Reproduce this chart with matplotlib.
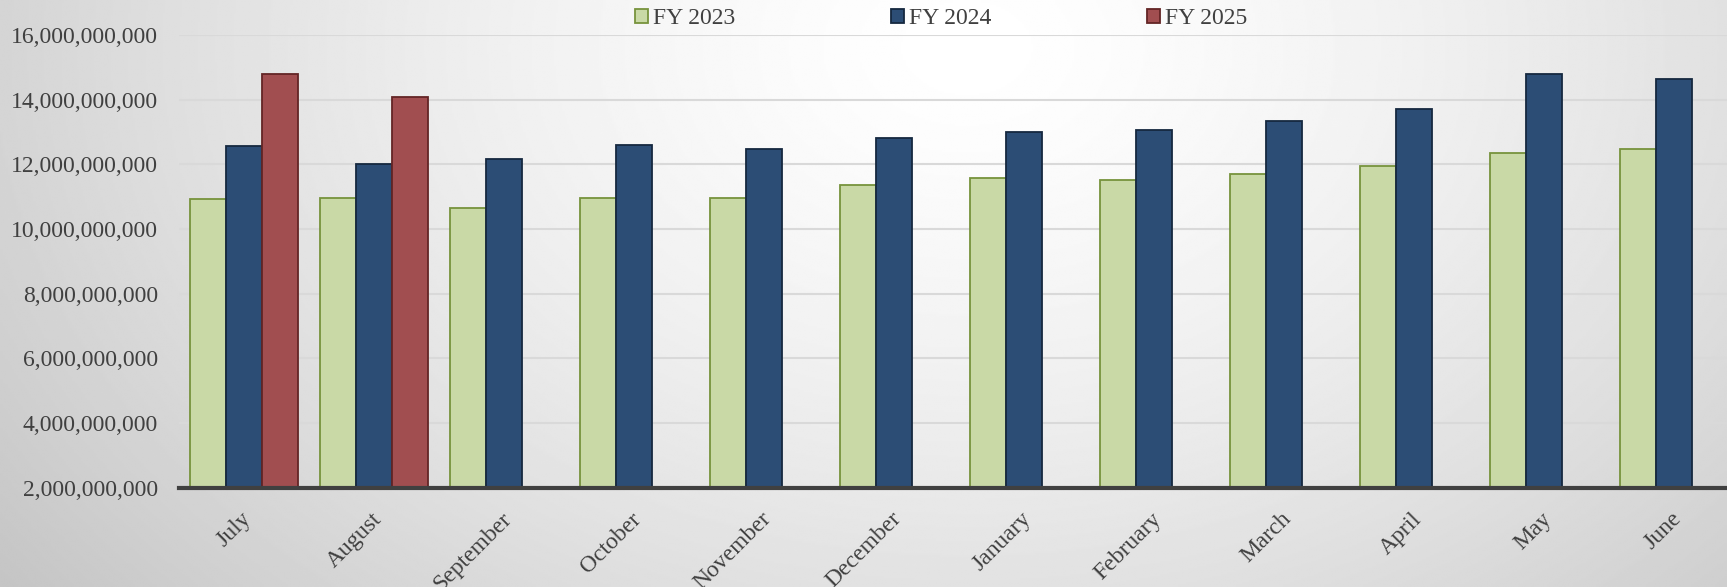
import numpy as np
import matplotlib.pyplot as plt
import matplotlib.transforms as mtransforms
from matplotlib.ticker import FuncFormatter

plt.rcParams['font.family'] = ['Liberation Serif', 'DejaVu Serif']

meses = ['July', 'August', 'September', 'October', 'November', 'December',
         'January', 'February', 'March', 'April', 'May', 'June']

fy2023 = [10.93e9, 10.96e9, 10.65e9, 10.96e9, 10.95e9, 11.37e9,
          11.57e9, 11.50e9, 11.71e9, 11.94e9, 12.36e9, 12.48e9]
fy2024 = [12.56e9, 12.02e9, 12.16e9, 12.59e9, 12.47e9, 12.81e9,
          13.01e9, 13.07e9, 13.34e9, 13.71e9, 14.79e9, 14.63e9]
fy2025 = [14.79e9, 14.07e9]

fig = plt.figure(figsize=(17.27, 5.87), dpi=100)

# fundo em degrade cinza
bg = fig.add_axes([0, 0, 1, 1], zorder=-10)
yy, xx = np.mgrid[0:1:300j, 0:1:800j]
r = np.sqrt(((xx - 0.56) / 0.56) ** 2 + ((yy - 0.08) / 1.2) ** 2)
grad = 1.0 - 0.24 * np.clip(r, 0, 1.3) ** 1.4 / 1.3 ** 1.4
bg.imshow(grad, cmap='gray', vmin=0, vmax=1, aspect='auto',
          extent=[0, 1, 1, 0], interpolation='bilinear')
bg.axis('off')

ax = fig.add_axes([0.1036, 0.1692, 0.9034, 0.7712])
ax.set_facecolor('none')

x = np.arange(len(meses))
w = 0.277

ax.bar(x - w, fy2023, w, color='#c9d9a6', edgecolor='#77933c',
       linewidth=1.3, label='FY 2023', zorder=3)
ax.bar(x, fy2024, w, color='#2c4d75', edgecolor='#15283f',
       linewidth=1.3, label='FY 2024', zorder=3)
ax.bar(x[:len(fy2025)] + w, fy2025, w, color='#a14e50', edgecolor='#632525',
       linewidth=1.3, label='FY 2025', zorder=3)

ax.set_ylim(2e9, 16e9)
ax.set_xlim(-0.5, 11.5)
ax.set_yticks(np.arange(2e9, 16.1e9, 2e9))
ax.yaxis.set_major_formatter(FuncFormatter(lambda v, p: f"{v:,.0f}"))
ax.grid(axis='y', color='#d9d9d9', linewidth=1.5, zorder=0)

for s in ['top', 'right', 'left']:
    ax.spines[s].set_visible(False)
ax.spines['bottom'].set_color('#404040')
ax.spines['bottom'].set_linewidth(3)
ax.spines['bottom'].set_zorder(4)

ax.tick_params(axis='y', length=0, labelsize=17, labelcolor='#404040', pad=15)
ax.tick_params(axis='x', length=0, labelsize=17, labelcolor='#404040')
ax.set_xticks(x)
ax.set_xticklabels(meses, rotation=45, ha='right', va='top', rotation_mode='anchor')
desloc = mtransforms.ScaledTranslation(-3 / 100, 0, fig.dpi_scale_trans)
for lbl in ax.get_xticklabels():
    lbl.set_y(-0.035)
    lbl.set_transform(lbl.get_transform() + desloc)

fig.legend(ncol=3, loc='center', bbox_to_anchor=(0.545, 0.968), frameon=False,
           fontsize=17, labelcolor='#404040', handlelength=0.55, handleheight=0.55,
           handletextpad=0.2, columnspacing=6.6)

plt.savefig('out.png', dpi=100)
